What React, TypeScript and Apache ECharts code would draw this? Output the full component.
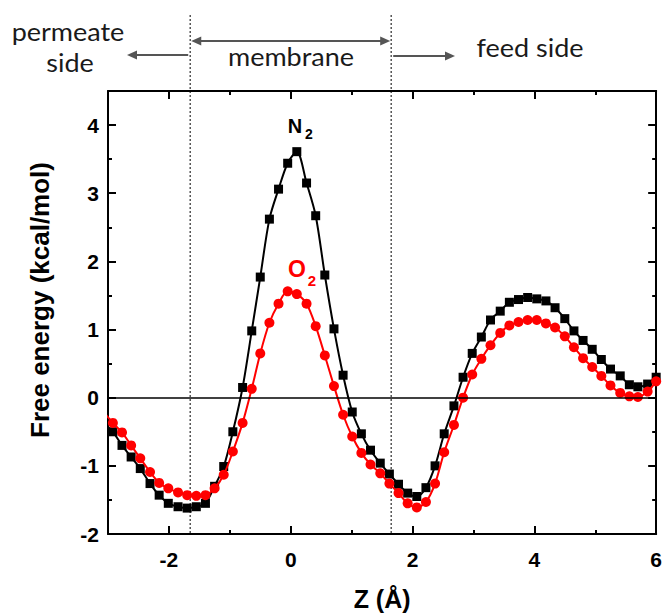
import React, { useEffect, useRef } from "react";
import * as echarts from "echarts";

// Position along the membrane normal (Å) of each sampled window
const zPositions = [
  -3.07, -2.92, -2.77, -2.62, -2.47, -2.31, -2.16, -2.01, -1.85, -1.7,
  -1.55, -1.4, -1.25, -1.1, -0.95, -0.79, -0.64, -0.5, -0.35, -0.2,
  -0.05, 0.1, 0.26, 0.41, 0.56, 0.71, 0.86, 1.01, 1.16, 1.31,
  1.47, 1.62, 1.77, 1.92, 2.07, 2.22, 2.37, 2.52, 2.68, 2.83,
  2.98, 3.13, 3.28, 3.44, 3.59, 3.74, 3.89, 4.04, 4.19, 4.34,
  4.5, 4.65, 4.8, 4.95, 5.1, 5.25, 5.41, 5.56, 5.7, 5.86, 6.0,
];

// Free energy profiles (kcal/mol)
const n2Energy = [
  -0.38, -0.5, -0.7, -0.87, -1.04, -1.26, -1.43, -1.55, -1.6, -1.62,
  -1.6, -1.55, -1.3, -1.01, -0.5, 0.15, 0.98, 1.77, 2.62, 3.06,
  3.44, 3.61, 3.15, 2.67, 1.8, 1.01, 0.33, -0.21, -0.53, -0.77,
  -0.96, -1.12, -1.27, -1.4, -1.45, -1.32, -1.0, -0.53, -0.12, 0.3,
  0.65, 0.89, 1.14, 1.27, 1.4, 1.44, 1.47, 1.45, 1.42, 1.32,
  1.16, 0.98, 0.84, 0.71, 0.56, 0.42, 0.32, 0.19, 0.16, 0.2, 0.3,
];

const o2Energy = [
  -0.21, -0.37, -0.51, -0.7, -0.89, -1.09, -1.25, -1.33, -1.39, -1.43,
  -1.44, -1.43, -1.33, -1.13, -0.79, -0.37, 0.13, 0.65, 1.1, 1.38,
  1.56, 1.52, 1.38, 1.05, 0.62, 0.17, -0.25, -0.57, -0.81, -0.98,
  -1.11, -1.26, -1.4, -1.55, -1.61, -1.53, -1.26, -0.8, -0.4, 0.0,
  0.34, 0.57, 0.77, 0.95, 1.06, 1.11, 1.14, 1.14, 1.09, 1.03,
  0.9, 0.74, 0.58, 0.45, 0.32, 0.18, 0.07, 0.02, 0.01, 0.09, 0.24,
];

const xRange = [-3, 6];
const yRange = [-2, 4.5];
const xMajorTicks = [-2, 0, 2, 4, 6];
const xMinorTicks = [-1, 1, 3, 5];
const yMajorTicks = [-2, -1, 0, 1, 2, 3, 4];
const yMinorTicks = [-1.5, -0.5, 0.5, 1.5, 2.5, 3.5];

// Membrane boundaries (Å)
const membraneEdges = [-1.65, 1.65];

const seriesNames = ["N2", "O2"];
const seriesColors = ["#000000", "#ff0000"];

const AXIS_FONT = "Liberation Sans, Arial, sans-serif";
const NOTE_FONT = "Lato, Open Sans, sans-serif";
const NOTE_COLOR = "#1a1a1a";
const ARROW_COLOR = "#555555";

const frameLine = { color: "#000", width: 2 };

function makeXAxis(position: "top" | "bottom", ticks: number[], len: number, major: boolean, withLabels: boolean) {
  return {
    type: "value",
    min: xRange[0],
    max: xRange[1],
    position,
    axisLine: { show: major, onZero: false, lineStyle: frameLine },
    axisTick: { show: true, inside: true, length: len, customValues: ticks, lineStyle: { color: "#000", width: 2 } },
    axisLabel: withLabels
      ? { show: true, customValues: ticks, color: "#000", fontFamily: AXIS_FONT, fontWeight: "bold", fontSize: 21, margin: 15 }
      : { show: false },
    splitLine: { show: false },
    ...(withLabels
      ? {
          name: "Z (Å)",
          nameLocation: "middle",
          nameGap: 52,
          nameTextStyle: { color: "#000", fontFamily: AXIS_FONT, fontWeight: "bold", fontSize: 25 },
        }
      : {}),
  };
}

function makeYAxis(position: "left" | "right", ticks: number[], len: number, major: boolean, withLabels: boolean) {
  return {
    type: "value",
    min: yRange[0],
    max: yRange[1],
    position,
    axisLine: { show: major, onZero: false, lineStyle: frameLine },
    axisTick: { show: true, inside: true, length: len, customValues: ticks, lineStyle: { color: "#000", width: 2 } },
    axisLabel: withLabels
      ? { show: true, customValues: ticks, color: "#000", fontFamily: AXIS_FONT, fontWeight: "bold", fontSize: 21, margin: 9 }
      : { show: false },
    splitLine: { show: false },
  };
}

function arrowHead(tipX: number, y: number, dir: number) {
  return {
    type: "polygon",
    silent: true,
    shape: { points: [[tipX, y], [tipX - dir * 10, y - 4.5], [tipX - dir * 10, y + 4.5]] },
    style: { fill: ARROW_COLOR },
  };
}

function shaft(x1: number, x2: number, y: number) {
  return {
    type: "line",
    silent: true,
    shape: { x1, y1: y, x2, y2: y },
    style: { stroke: ARROW_COLOR, lineWidth: 2 },
  };
}

function note(text: string, x: number, y: number, size: number) {
  return {
    type: "text",
    silent: true,
    x,
    y,
    scaleX: 1.08,
    style: {
      text,
      fill: NOTE_COLOR,
      fontFamily: NOTE_FONT,
      fontSize: size,
      textAlign: "center",
      textVerticalAlign: "middle",
    },
  };
}

function boldText(text: string, x: number, y: number, size: number, color: string, rotation = 0) {
  return {
    type: "text",
    silent: true,
    x,
    y,
    rotation,
    style: {
      text,
      fill: color,
      fontFamily: AXIS_FONT,
      fontWeight: "bold",
      fontSize: size,
      textAlign: "center",
      textVerticalAlign: "middle",
    },
  };
}

export default function App() {
  const ref = useRef<HTMLDivElement>(null);

  useEffect(() => {
    if (!ref.current) return;
    const chart = echarts.init(ref.current, null, { renderer: "svg" });

    const lineData = [n2Energy, o2Energy].map((vals) => zPositions.map((z, i) => [z, vals[i]]));

    chart.setOption({
      animation: false,
      backgroundColor: "#ffffff",
      grid: { left: 108, right: 8, top: 91, bottom: 80 },
      xAxis: [
        makeXAxis("bottom", xMajorTicks, 8, true, true),
        makeXAxis("bottom", xMinorTicks, 4, false, false),
        makeXAxis("top", xMajorTicks, 8, true, false),
        makeXAxis("top", xMinorTicks, 4, false, false),
      ],
      yAxis: [
        makeYAxis("left", yMajorTicks, 8, true, true),
        makeYAxis("left", yMinorTicks, 4, false, false),
        makeYAxis("right", yMajorTicks, 8, true, false),
        makeYAxis("right", yMinorTicks, 4, false, false),
      ],
      series: [
        {
          name: seriesNames[0],
          type: "line",
          xAxisIndex: 0,
          yAxisIndex: 0,
          data: lineData[0],
          smooth: 0.3,
          symbol: "rect",
          symbolSize: 9,
          itemStyle: { color: seriesColors[0] },
          lineStyle: { color: seriesColors[0], width: 2 },
          markLine: {
            silent: true,
            symbol: "none",
            label: { show: false },
            lineStyle: { color: "#000", width: 1.5, type: "solid" },
            data: [{ yAxis: 0 }],
          },
          z: 3,
        },
        {
          name: seriesNames[1],
          type: "line",
          xAxisIndex: 0,
          yAxisIndex: 0,
          data: lineData[1],
          smooth: 0.3,
          symbol: "circle",
          symbolSize: 10,
          itemStyle: { color: seriesColors[1] },
          lineStyle: { color: seriesColors[1], width: 2 },
          z: 4,
        },
      ],
    });

    const xl = chart.convertToPixel({ xAxisIndex: 0 }, membraneEdges[0]) as number;
    const xr = chart.convertToPixel({ xAxisIndex: 0 }, membraneEdges[1]) as number;
    const yb = chart.convertToPixel({ yAxisIndex: 0 }, yRange[0]) as number;

    const dotted = (x: number) => ({
      type: "line",
      silent: true,
      shape: { x1: x, y1: 15, x2: x, y2: yb },
      style: { stroke: "#555", lineWidth: 1.5, lineDash: [2, 2] },
    });

    chart.setOption({
      graphic: [
        dotted(xl),
        dotted(xr),
        // membrane span
        shaft(xl + 8, xr - 8, 41),
        arrowHead(xl + 1, 41, -1),
        arrowHead(xr - 1, 41, 1),
        // towards the permeate side
        shaft(xl - 2, 135, 55),
        arrowHead(127, 55, -1),
        // towards the feed side
        shaft(xr + 2, 447, 56),
        arrowHead(455, 56, 1),
        note("permeate", 68, 31, 25),
        note("side", 70, 62, 25),
        note("membrane", 291, 56, 25),
        note("feed side", 530, 47, 25),
        boldText("N", 295, 126, 20, seriesColors[0]),
        boldText("2", 309, 134, 14, seriesColors[0]),
        boldText("O", 297, 269, 23, seriesColors[1]),
        boldText("2", 312, 280, 15, seriesColors[1]),
        boldText("Free energy (kcal/mol)", 40, 300, 26, "#000", Math.PI / 2),
      ],
    });

    return () => chart.dispose();
  }, []);

  return (
    <div
      ref={ref}
      style={{ position: "absolute", left: 0, top: 0, width: 665, height: 616, background: "#fff" }}
    />
  );
}
